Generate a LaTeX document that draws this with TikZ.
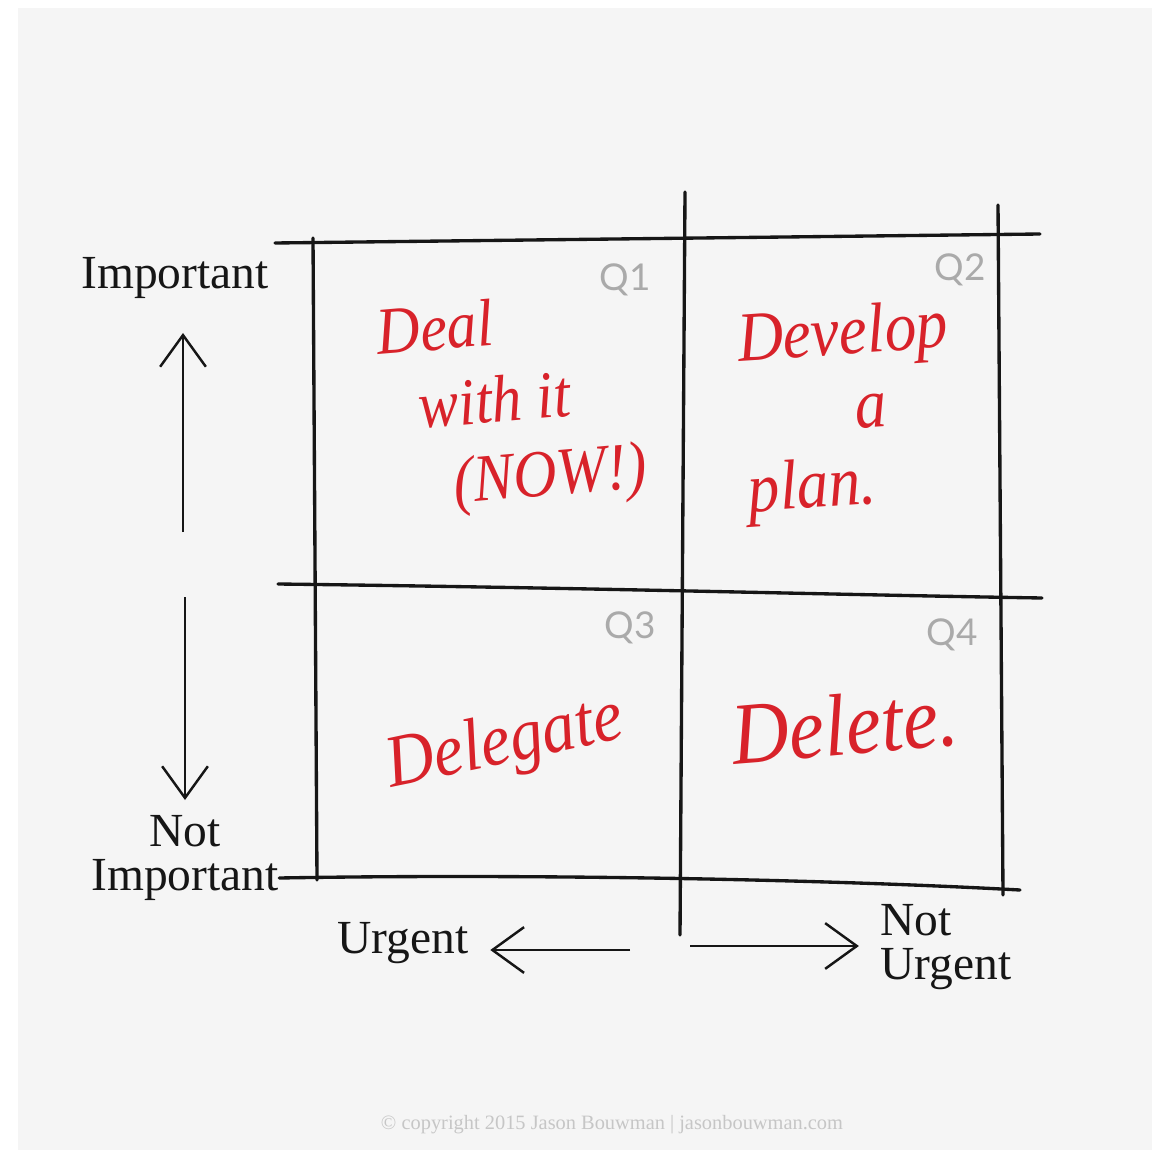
\documentclass[tikz,border=0pt]{standalone}
\usepackage{fontspec}
\setmainfont{Liberation Serif}
\newfontfamily\tagfont{Lato}
\newfontfamily\handfont[FakeStretch=0.9]{Liberation Serif}
\usetikzlibrary{arrows.meta}
\definecolor{paper}{RGB}{245,245,245}
\definecolor{ink}{RGB}{22,22,22}
\definecolor{inkred}{RGB}{216,34,42}
\definecolor{taggray}{RGB}{170,170,170}
\definecolor{footgray}{RGB}{198,198,198}

\begin{document}
\begin{tikzpicture}[x=0.01cm, y=-0.01cm,
	axis label/.style={font=\fontsize{13.5}{12.5}\selectfont, text=ink, align=center, inner sep=0pt},
	q tag/.style={font=\tagfont\fontsize{10.5}{10}\selectfont, text=taggray, inner sep=0pt},
	hand/.style={font=\handfont\itshape\fontsize{19}{22}\selectfont, text=inkred, inner sep=0pt, align=left},
	grid line/.style={draw=ink, line width=0.95pt, line cap=round},
	pointer/.style={draw=ink, line width=0.7pt, shorten >=6pt, -{Straight Barb[length=9pt, width=13pt, line width=0.7pt]}}]

	% paper
	\fill[white] (0,0) rectangle (1152,1155);
	\fill[paper] (18,8) rectangle (1152,1150);
	\useasboundingbox (0,0) rectangle (1152,1155);

	% grid corners
	\coordinate (tl) at (275,243);
	\coordinate (tr) at (1040,234);
	\coordinate (ml) at (278,584);
	\coordinate (mr) at (1042,598);
	\coordinate (br) at (1020,890);
	\coordinate (lt) at (313,238);
	\coordinate (lb) at (317,880);
	\coordinate (ct) at (685,192);
	\coordinate (cb) at (680,935);
	\coordinate (rt) at (998,205);
	\coordinate (rb) at (1003,895);

	% axis labels
	\node[axis label] (imp) at (175,278) {Important};
	\node[axis label] (notimp) at (185,858) {Not\\Important};
	\node[axis label] (urg) at (403,943) {Urgent};
	\node[axis label, anchor=west, align=left] (noturg) at (880,947) {Not\\Urgent};

	% grid
	\path[grid line] (tl) -- (tr);
	\path[grid line] (ml) .. controls (600,588) and (800,594) .. (mr);
	\path[grid line] (notimp.east |- 0,878) .. controls (500,874) and (800,878) .. (br);
	\path[grid line] (lt) -- (lb);
	\path[grid line] (ct) -- (cb);
	\path[grid line] (rt) -- (rb);

	% arrows
	\coordinate (upfoot) at (183,532);
	\coordinate (uphead) at (183,333);
	\coordinate (dnfoot) at (185,597);
	\coordinate (dnhead) at (185,800);
	\coordinate (lffoot) at (630,950);
	\coordinate (rtfoot) at (690,946);
	\path[pointer, shorten >=0pt] (upfoot) -- (uphead);
	\path[pointer, shorten >=0pt] (dnfoot) -- (dnhead);
	\path[pointer] (lffoot) -- (urg.east |- lffoot);
	\path[pointer] (rtfoot) -- (noturg.west |- rtfoot);

	% quadrant tags
	\node[q tag] (q1) at (625,280) {Q1};
	\node[q tag] (q2) at (960,270) {Q2};
	\node[q tag] (q3) at (630,628) {Q3};
	\node[q tag] (q4) at (952,635) {Q4};

	% handwritten notes
	\node[hand, anchor=north west, rotate=5] (deal) at (374,308)
		{Deal\\\hspace*{10pt}with it\\\hspace*{18pt}(NOW!)};
	\node[hand, anchor=north west, rotate=4, font=\handfont\itshape\fontsize{20}{21.5}\selectfont] (dev) at (735,312)
		{Develop\\\hspace*{32pt}a\\plan.};
	\node[hand, rotate=12, font=\handfont\itshape\fontsize{21}{20}\selectfont] (deleg) at (505,745) {Delegate};
	\node[hand, rotate=5, font=\handfont\itshape\fontsize{25}{24}\selectfont] (del) at (845,725) {Delete.};

	% footer
	\node[font=\fontsize{5.8}{6}\selectfont, text=footgray] (foot) at (612,1125)
		{\textcopyright\ copyright 2015 Jason Bouwman | jasonbouwman.com};

\end{tikzpicture}
\end{document}
